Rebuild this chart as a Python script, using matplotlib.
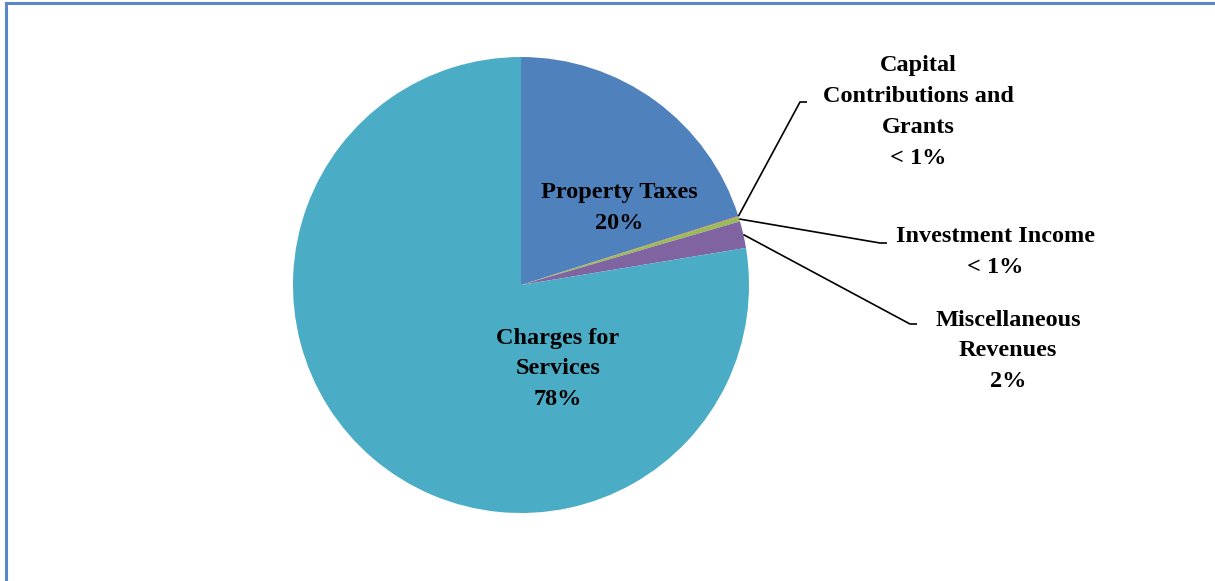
import numpy as np
import matplotlib.pyplot as plt
from matplotlib.patches import Rectangle

# revenue sources, share of total (%)
sources = ["Property Taxes", "Capital\nContributions and\nGrants",
           "Investment Income", "Miscellaneous\nRevenues", "Charges for\nServices"]
shares = [20.1, 0.05, 0.35, 1.9, 77.6]
colors = ["#4F81BD", "#C0504D", "#9BBB59", "#8064A2", "#4BACC6"]

W, H = 1215, 581
fig = plt.figure(figsize=(W / 100, H / 100), dpi=100)
ax = fig.add_axes([0, 0, 1, 1])

cx, cy, r = 521, H - 285, 228
wedges, _ = ax.pie(shares, colors=colors, startangle=90, counterclock=False,
                   center=(cx, cy), radius=r, frame=True,
                   wedgeprops=dict(linewidth=0))
ax.set_xlim(0, W)
ax.set_ylim(0, H)
ax.axis("off")

pct = np.array(shares) / sum(shares) * 100


def pct_text(p):
    return "< 1%" if p < 1 else f"{round(p)}%"


font = dict(family="Liberation Serif", weight="bold", fontsize=17.5,
            ha="center", va="center", linespacing=1.62, color="black")

# labels inside the two big slices
ax.text(619, H - 208, f"{sources[0]}\n{pct_text(pct[0])}", **font)
ax.text(558, H - 369, f"{sources[4]}\n{pct_text(pct[4])}", **font)

# small slices get leader lines out to the right
outside = [
    (1, (800, 102), (918, 112)),
    (2, (880, 243), (995, 252)),
    (3, (910, 324), (1008, 351)),
]
for i, elbow, txt in outside:
    w = wedges[i]
    mid = np.deg2rad((w.theta1 + w.theta2) / 2)
    x0 = cx + r * np.cos(mid)
    y0 = cy + r * np.sin(mid)
    ex, ey = elbow
    ax.plot([x0, ex, ex + 7], [y0, H - ey, H - ey], color="black", lw=1.2,
            solid_capstyle="butt")
    ax.text(txt[0], H - txt[1], f"{sources[i]}\n{pct_text(pct[i])}", **font)

# chart border, runs off the right and bottom edges
fig.patches.append(Rectangle((6 / W, -0.1), 1.2, (H - 3) / H + 0.1,
                             transform=fig.transFigure, fill=False,
                             edgecolor="#5A87C5", linewidth=2.2))

fig.savefig("out.png", dpi=100)
